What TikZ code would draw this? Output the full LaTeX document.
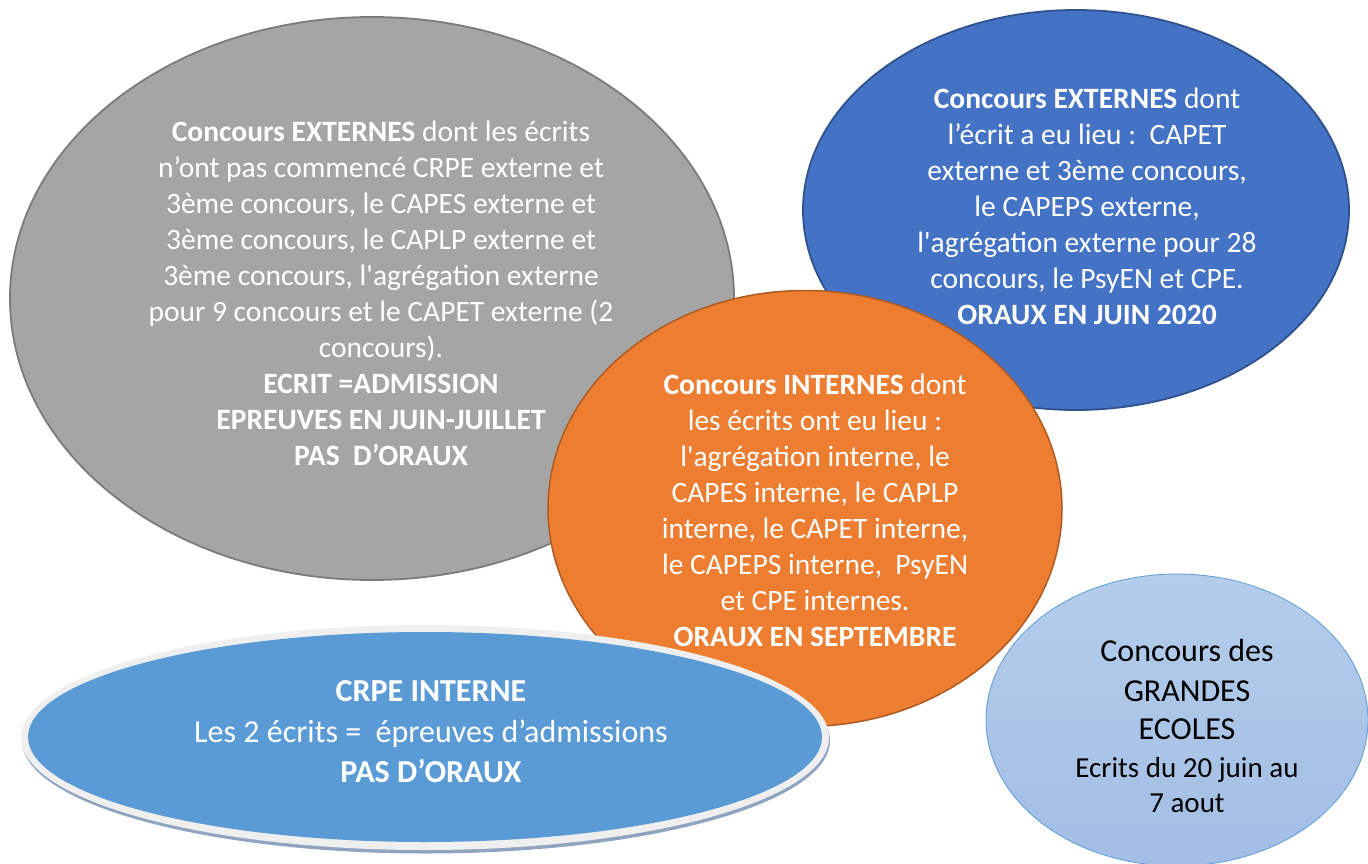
\documentclass[tikz,border=0pt]{standalone}
\usepackage{fontspec}
\setmainfont{Carlito}[Ligatures=TeXOff]
\usetikzlibrary{shapes.geometric}
\definecolor{grayfill}{HTML}{A5A5A5}
\definecolor{grayline}{HTML}{7B7B7B}
\definecolor{bluefill}{HTML}{4472C4}
\definecolor{blueline}{HTML}{2F528F}
\definecolor{orangefill}{HTML}{ED7D31}
\definecolor{orangeline}{HTML}{AE5A21}
\definecolor{crpefill}{HTML}{5B9BD5}
\definecolor{ringfill}{HTML}{EFEFEF}
\definecolor{shadowc}{HTML}{8FA5BF}
\definecolor{ltop}{HTML}{B4CDEB}
\definecolor{lbot}{HTML}{A3BEE5}
\definecolor{lline}{HTML}{5B9BD5}
\newcommand{\smallge}{\fontsize{29}{33}\selectfont}
\tikzset{
  blob/.style={ellipse, inner sep=0pt, outer sep=0pt},
  wtxt/.style={align=center, text=white, inner sep=0pt, font=\fontsize{29.5}{36}\selectfont},
  btxt/.style={align=center, text=black, inner sep=0pt, font=\fontsize{32}{39}\selectfont},
}
\begin{document}
\begin{tikzpicture}[x=1pt,y=-1pt]
\useasboundingbox (0,0) rectangle (1368,864);
% gray
\node[blob, fill=grayfill, draw=grayline, line width=1.8pt, minimum width=724pt, minimum height=563pt] (gray) at (372,298.5) {};
\node[wtxt] (grayt) at (381,293) {\textbf{Concours EXTERNES} dont les écrits\\
n’ont pas commencé CRPE externe et\\
3ème concours, le CAPES externe et\\
3ème concours, le CAPLP externe et\\
3ème concours, l'agrégation externe\\
pour 9 concours et le CAPET externe (2\\
concours).\\
\textbf{ECRIT =ADMISSION}\\
\textbf{EPREUVES EN JUIN-JUILLET}\\
\textbf{PAS\ \ D’ORAUX}};
% blue
\node[blob, fill=bluefill, draw=blueline, line width=1.8pt, minimum width=546pt, minimum height=400pt] (blue) at (1076,210) {};
\node[wtxt] (bluet) at (1087,206) {\textbf{Concours EXTERNES} dont\\
l’écrit a eu lieu :\ \ CAPET\\
externe et 3ème concours,\\
le CAPEPS externe,\\
l'agrégation externe pour 28\\
concours, le PsyEN et CPE.\\
\textbf{ORAUX EN JUIN 2020}};
% orange
\node[blob, fill=orangefill, draw=orangeline, line width=1.5pt, minimum width=514pt, minimum height=436pt] (orange) at (805,508.5) {};
\node[wtxt] (oranget) at (815,510) {\textbf{Concours INTERNES} dont\\
les écrits ont eu lieu :\\
l'agrégation interne, le\\
CAPES interne, le CAPLP\\
interne, le CAPET interne,\\
le CAPEPS interne,\ \ PsyEN\\
et CPE internes.\\
\textbf{ORAUX EN SEPTEMBRE}};
% CRPE interne
\node[blob, fill=shadowc, minimum width=808pt, minimum height=226pt] (crpeshadow) at (426,740.5) {};
\node[blob, fill=ringfill, minimum width=808pt, minimum height=225pt] (crpering) at (425,737.5) {};
\node[blob, fill=crpefill, minimum width=794pt, minimum height=210pt] (crpe) at (425,737) {};
\node[wtxt, font=\fontsize{32}{40.5}\selectfont] (crpet) at (431,732) {\textbf{CRPE INTERNE}\\
Les 2 écrits =\ \ épreuves\ d’admissions\\
\textbf{PAS D’ORAUX}};
% grandes ecoles
\node[blob, top color=ltop, bottom color=lbot, draw=lline, line width=0.8pt, minimum width=382pt, minimum height=292pt] (ge) at (1177,720) {};
\node[btxt] (get) at (1187,726) {Concours des\\[1pt]
GRANDES\\[-1pt]
ECOLES\\[-1pt]
\smallge Ecrits du 20 juin au\\[-4pt]
\smallge 7 aout};
\end{tikzpicture}
\end{document}
